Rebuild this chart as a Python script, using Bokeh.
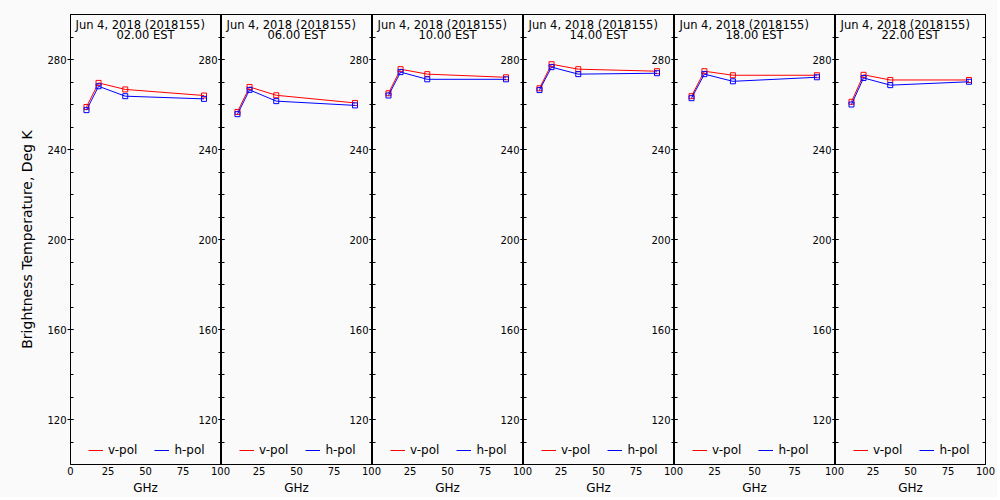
from bokeh.plotting import figure
from bokeh.layouts import row
from bokeh.models import (Range1d, LinearAxis, FixedTicker, Label, Legend,
                          CustomLabelingPolicy)
from bokeh.embed import file_html
from bokeh.resources import INLINE

# ---------------- data ----------------
freqs = [10.65, 18.7, 36.5, 89.0]          # GHz
date_label = "Jun  4, 2018 (2018155)"
times = ["02.00 EST", "06.00 EST", "10.00 EST", "14.00 EST", "18.00 EST", "22.00 EST"]

vpol_02 = [258.9, 269.6, 266.7, 264.0]
vpol_06 = [256.7, 267.8, 264.1, 260.7]
vpol_10 = [265.0, 275.7, 273.5, 272.1]
vpol_14 = [267.2, 277.9, 275.7, 274.8]
vpol_18 = [263.7, 274.8, 273.0, 273.0]
vpol_22 = [261.2, 273.2, 270.9, 270.9]

hpol_02 = [257.5, 268.1, 263.7, 262.5]
hpol_06 = [255.7, 266.5, 261.5, 259.6]
hpol_10 = [264.0, 274.4, 271.2, 271.2]
hpol_14 = [266.4, 276.6, 273.5, 273.9]
hpol_18 = [262.8, 273.5, 270.3, 272.1]
hpol_22 = [260.0, 271.8, 268.6, 270.1]

vpol = [vpol_02, vpol_06, vpol_10, vpol_14, vpol_18, vpol_22]
hpol = [hpol_02, hpol_06, hpol_10, hpol_14, hpol_18, hpol_22]

x_ticks_first = [0, 25, 50, 75, 100]
x_ticks_rest = [25, 50, 75, 100]
y_major = [120, 160, 200, 240, 280]
y_minor = [100, 110, 120, 130, 140, 150, 160, 170, 180, 190, 200,
           210, 220, 230, 240, 250, 260, 270, 280, 290, 300]

FONT = "DejaVu Sans"
RED = "#ff0000"
BLUE = "#0000ff"
BG = "#fafafa"

figs = []
for k in range(6):
    fw = 160 if k == 4 else 150
    bl = 70 if k == 0 else 25
    p = figure(frame_width=fw, frame_height=450,
               x_range=Range1d(0, 100), y_range=Range1d(100, 300),
               output_backend="svg", toolbar_location=None,
               min_border_left=bl, min_border_right=12,
               min_border_top=14, min_border_bottom=30,
               background_fill_color=None, border_fill_color=None,
               outline_line_color="black", outline_line_width=1)
    if k > 0:
        p.margin = (0, 0, 0, -37)
    p.grid.visible = False

    xa = p.xaxis[0]
    xa.ticker = FixedTicker(ticks=x_ticks_first if k == 0 else x_ticks_rest)
    xa.major_tick_in = 0
    xa.major_tick_out = 0
    xa.minor_tick_line_color = None
    xa.axis_line_color = "black"
    xa.major_label_text_font = FONT
    xa.major_label_text_font_size = "10px"
    xa.major_label_text_color = "black"
    xa.major_label_standoff = 2
    xa.axis_label = "GHz"
    xa.axis_label_text_font = FONT
    xa.axis_label_text_font_size = "12px"
    xa.axis_label_text_font_style = "normal"
    xa.axis_label_text_color = "black"
    xa.axis_label_standoff = 3

    ya = p.yaxis[0]
    ya.ticker = FixedTicker(ticks=y_major, minor_ticks=y_minor)
    ya.major_tick_in = 3
    ya.major_tick_out = 3
    ya.minor_tick_in = 3
    ya.minor_tick_out = 0 if k == 0 else 3
    ya.major_tick_line_color = "black"
    ya.minor_tick_line_color = "black"
    ya.axis_line_color = "black"
    ya.major_label_text_font = FONT
    ya.major_label_text_font_size = "10px"
    ya.major_label_text_color = "black"
    ya.major_label_standoff = 1
    if k == 0:
        ya.axis_label = "Brightness Temperature, Deg K"
        ya.axis_label_text_font = FONT
        ya.axis_label_text_font_size = "14px"
        ya.axis_label_text_font_style = "normal"
        ya.axis_label_text_color = "black"
        ya.axis_label_standoff = 9

    if k == 5:
        ra = LinearAxis(ticker=FixedTicker(ticks=y_major, minor_ticks=y_minor),
                        major_tick_in=3, major_tick_out=0,
                        minor_tick_in=3, minor_tick_out=0,
                        major_label_standoff=0,
                        major_label_text_font_size="1px",
                        major_label_policy=CustomLabelingPolicy(code="return new Set()"),
                        axis_line_color="black")
        p.add_layout(ra, "right")

    p.line(freqs, vpol[k], line_color=RED, line_width=1, legend_label="v-pol")
    p.scatter(freqs, vpol[k], marker="square", size=5, line_color=RED,
              fill_color=None, line_width=1)
    p.line(freqs, hpol[k], line_color=BLUE, line_width=1, legend_label="h-pol")
    p.scatter(freqs, hpol[k], marker="square", size=5, line_color=BLUE,
              fill_color=None, line_width=1)

    lg = p.legend[0]
    lg.orientation = "horizontal"
    lg.location = (18, 7)
    lg.glyph_width = 15
    lg.glyph_height = 12
    lg.label_standoff = 5
    lg.spacing = 17
    lg.padding = 0
    lg.margin = 0
    lg.border_line_color = None
    lg.background_fill_alpha = 0
    lg.label_text_font = FONT
    lg.label_text_font_size = "12px"
    lg.label_text_color = "black"
    lg.label_height = 12

    p.add_layout(Label(x=5, y=447, x_units="screen", y_units="screen",
                       text=date_label, text_font=FONT, text_font_size="11.5px",
                       text_baseline="top", text_align="left", text_color="black"))
    p.add_layout(Label(x=fw / 2, y=437, x_units="screen", y_units="screen",
                       text=times[k], text_font=FONT, text_font_size="11.5px",
                       text_baseline="top", text_align="center", text_color="black"))
    figs.append(p)

layout = row(*figs, styles={"background-color": BG})
open("out.html", "w").write(file_html(layout, INLINE))
